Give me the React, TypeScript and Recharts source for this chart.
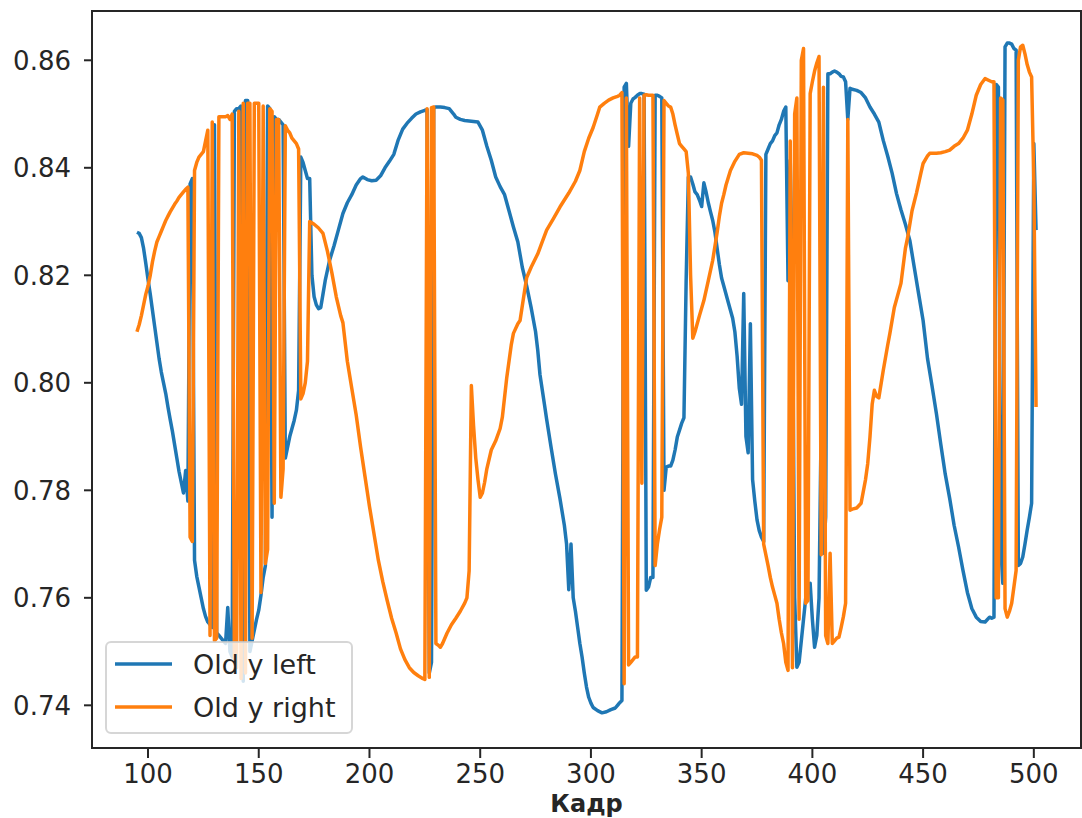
import { LineChart, Line, XAxis, YAxis, ReferenceArea } from "recharts";

const FRAME_TICKS = [100, 150, 200, 250, 300, 350, 400, 450, 500];
const VALUE_TICKS = [0.74, 0.76, 0.78, 0.8, 0.82, 0.84, 0.86];
const FRAME_DOMAIN: [number, number] = [74.7, 521.3];
const VALUE_DOMAIN: [number, number] = [0.73206, 0.86917];

// [кадр, значение]
const oldYLeft: [number, number][] = [
  [95, 0.828], [96, 0.8278], [97, 0.827], [98, 0.825], [99, 0.8222], [100, 0.8192], [101, 0.8165], [102, 0.8135],
  [103, 0.8105], [104, 0.8075], [105, 0.8045], [106, 0.802], [107, 0.8], [108, 0.798], [109, 0.7955], [110, 0.7932],
  [111, 0.791], [112, 0.7885], [113, 0.786], [114, 0.7835], [115, 0.7815], [116, 0.7795], [117, 0.7837], [118, 0.778],
  [119, 0.837], [120, 0.838], [121, 0.767], [122, 0.764], [123, 0.762], [124, 0.76], [125, 0.758], [126, 0.7565],
  [127, 0.7555], [128, 0.755], [129, 0.7545], [130, 0.848], [131, 0.7535], [132, 0.753], [133, 0.7525], [134, 0.752],
  [135, 0.7515], [136, 0.7582], [137, 0.75], [138, 0.749], [139, 0.8505], [140, 0.851], [141, 0.851], [142, 0.8515],
  [143, 0.7445], [144, 0.8525], [145, 0.8525], [146, 0.75], [147, 0.752], [148, 0.754], [149, 0.756], [150, 0.7577],
  [151, 0.7605], [152, 0.7638], [153, 0.766], [154, 0.8515], [155, 0.851], [156, 0.775], [157, 0.8495], [158, 0.849],
  [159, 0.849], [160, 0.8485], [161, 0.848], [162, 0.786], [163, 0.788], [164, 0.79], [165, 0.7915], [166, 0.793],
  [167, 0.7949], [168, 0.7986], [169, 0.842], [170, 0.841], [171, 0.8395], [172, 0.838], [173, 0.838], [174, 0.82],
  [175, 0.816], [176, 0.8145], [177, 0.8138], [178, 0.814], [179, 0.8165], [180, 0.819], [182, 0.8228], [184, 0.8255],
  [186, 0.8285], [188, 0.8315], [190, 0.8335], [192, 0.835], [194, 0.8368], [196, 0.838], [197, 0.8383], [199, 0.8378],
  [201, 0.8376], [203, 0.8377], [205, 0.8385], [207, 0.84], [209, 0.8412], [211, 0.8425], [213, 0.8452], [215, 0.8472],
  [217, 0.8483], [219, 0.8492], [221, 0.85], [223, 0.8504], [225, 0.8507], [226, 0.8508], [227, 0.746], [228, 0.748],
  [229, 0.8512], [230, 0.8513], [232, 0.8513], [234, 0.8512], [236, 0.851], [238, 0.85], [239, 0.8494], [241, 0.849],
  [243, 0.8488], [245, 0.8487], [247, 0.8486], [249, 0.8485], [251, 0.847], [253, 0.844], [255, 0.8414], [257, 0.8383],
  [259, 0.8365], [261, 0.835], [263, 0.832], [265, 0.829], [267, 0.8262], [269, 0.8215], [271, 0.818], [273, 0.814],
  [275, 0.8095], [276, 0.806], [277, 0.8015], [279, 0.796], [280, 0.7932], [282, 0.788], [284, 0.783], [286, 0.7785],
  [288, 0.7735], [289, 0.77], [290, 0.7615], [291, 0.77], [292, 0.76], [293, 0.7575], [294, 0.7545], [295, 0.7515],
  [296, 0.749], [297, 0.746], [298, 0.7434], [299, 0.7415], [300, 0.7404], [301, 0.7396], [303, 0.739], [305, 0.7386],
  [307, 0.7388], [309, 0.7392], [311, 0.7395], [312, 0.74], [313, 0.7405], [314, 0.7409], [315, 0.855], [316, 0.8557],
  [317, 0.844], [318, 0.852], [319, 0.8528], [320, 0.8531], [321, 0.8535], [322, 0.8538], [323, 0.8538], [324, 0.8537],
  [325, 0.7614], [326, 0.762], [327, 0.7638], [328, 0.7638], [329, 0.8535], [330, 0.8535], [331, 0.8533], [332, 0.853],
  [333, 0.78], [334, 0.7843], [335, 0.7845], [336, 0.7845], [337, 0.7856], [338, 0.7875], [339, 0.7899], [340, 0.7912],
  [341, 0.7925], [342, 0.7935], [343, 0.8191], [344, 0.8383], [345, 0.8383], [346, 0.837], [347, 0.8355], [348, 0.835],
  [349, 0.834], [350, 0.8328], [351, 0.8372], [352, 0.8355], [353, 0.8335], [354, 0.8318], [355, 0.8302], [356, 0.828],
  [357, 0.825], [358, 0.822], [359, 0.8195], [360, 0.818], [362, 0.815], [364, 0.812], [365, 0.8095], [366, 0.805],
  [367, 0.799], [368, 0.796], [369, 0.8166], [370, 0.79], [371, 0.787], [372, 0.811], [373, 0.782], [374, 0.778],
  [375, 0.7745], [376, 0.7725], [377, 0.7713], [378, 0.7705], [379, 0.8425], [380, 0.8435], [381, 0.8445], [382, 0.845],
  [383, 0.846], [384, 0.8465], [385, 0.848], [386, 0.849], [387, 0.8505], [388, 0.8513], [389, 0.819], [390, 0.8414],
  [391, 0.8178], [392, 0.76], [393, 0.7471], [394, 0.748], [395, 0.752], [396, 0.756], [397, 0.76], [398, 0.762],
  [399, 0.7627], [400, 0.756], [401, 0.7508], [402, 0.753], [403, 0.76], [404, 0.7936], [405, 0.7683], [406, 0.775],
  [407, 0.8575], [408, 0.8575], [409, 0.8578], [410, 0.858], [411, 0.8578], [412, 0.8575], [413, 0.857], [414, 0.8569],
  [415, 0.856], [416, 0.849], [417, 0.8548], [418, 0.8546], [420, 0.8544], [422, 0.854], [424, 0.853], [426, 0.8513],
  [428, 0.85], [430, 0.8485], [432, 0.8451], [434, 0.8422], [436, 0.839], [438, 0.8352], [440, 0.8322], [442, 0.8295],
  [444, 0.8265], [446, 0.8215], [448, 0.8165], [450, 0.8116], [452, 0.8045], [454, 0.7995], [456, 0.7943], [458, 0.7885],
  [460, 0.783], [462, 0.7785], [464, 0.7735], [466, 0.7695], [468, 0.7651], [470, 0.761], [472, 0.758], [474, 0.7564],
  [476, 0.7556], [478, 0.7555], [480, 0.7564], [481, 0.7562], [482, 0.7564], [483, 0.8555], [484, 0.855], [485, 0.77],
  [486, 0.7627], [487, 0.8625], [488, 0.8632], [489, 0.8632], [490, 0.863], [491, 0.8622], [492, 0.8619], [493, 0.766],
  [494, 0.7664], [495, 0.7676], [496, 0.77], [497, 0.7726], [498, 0.775], [499, 0.7776], [500, 0.8445], [501, 0.8284],
];

const oldYRight: [number, number][] = [
  [95, 0.8095], [96, 0.8108], [97, 0.8125], [98, 0.8145], [99, 0.8165], [100, 0.818], [101, 0.82], [102, 0.8225],
  [103, 0.8245], [104, 0.8262], [105, 0.8272], [106, 0.8282], [107, 0.8292], [108, 0.8302], [109, 0.831], [110, 0.8318],
  [111, 0.8325], [112, 0.8332], [113, 0.8338], [114, 0.8345], [115, 0.835], [116, 0.8355], [117, 0.836], [118, 0.8364],
  [119, 0.7713], [120, 0.7705], [121, 0.8395], [122, 0.841], [123, 0.842], [124, 0.8425], [125, 0.843], [126, 0.845],
  [127, 0.847], [128, 0.753], [129, 0.8485], [130, 0.752], [131, 0.7525], [132, 0.8495], [133, 0.8495], [134, 0.8495],
  [135, 0.8495], [136, 0.8497], [137, 0.849], [138, 0.85], [139, 0.748], [140, 0.747], [141, 0.8505], [142, 0.745],
  [143, 0.852], [144, 0.746], [145, 0.852], [146, 0.852], [147, 0.7525], [148, 0.852], [149, 0.852], [150, 0.852],
  [151, 0.761], [152, 0.8515], [153, 0.7664], [154, 0.769], [155, 0.851], [156, 0.8505], [157, 0.7776], [158, 0.849],
  [159, 0.849], [160, 0.7787], [161, 0.784], [162, 0.8478], [163, 0.847], [164, 0.8465], [165, 0.8455], [166, 0.845],
  [167, 0.8445], [168, 0.8435], [169, 0.797], [170, 0.798], [171, 0.8], [172, 0.804], [173, 0.83], [175, 0.8295],
  [177, 0.8288], [179, 0.8278], [181, 0.8245], [183, 0.8205], [185, 0.816], [187, 0.8125], [188, 0.8112], [190, 0.804],
  [192, 0.799], [194, 0.794], [196, 0.788], [198, 0.7825], [200, 0.777], [202, 0.772], [204, 0.767], [206, 0.763],
  [208, 0.7595], [210, 0.7562], [212, 0.7535], [214, 0.7505], [216, 0.7485], [218, 0.747], [220, 0.7461], [222, 0.7455],
  [224, 0.745], [225, 0.7448], [226, 0.851], [227, 0.7452], [228, 0.8512], [229, 0.8513], [230, 0.7515], [231, 0.7512],
  [232, 0.7508], [233, 0.7515], [235, 0.7534], [237, 0.755], [239, 0.7562], [241, 0.7575], [243, 0.759], [244, 0.76],
  [245, 0.765], [246, 0.7995], [247, 0.792], [248, 0.786], [249, 0.782], [250, 0.7787], [251, 0.7795], [252, 0.7815],
  [253, 0.784], [255, 0.7875], [257, 0.7892], [259, 0.7915], [260, 0.7936], [262, 0.801], [264, 0.807], [265, 0.8092],
  [267, 0.811], [268, 0.8116], [270, 0.817], [271, 0.8196], [273, 0.8215], [276, 0.824], [278, 0.8262], [280, 0.8284],
  [283, 0.8305], [286, 0.8327], [288, 0.834], [290, 0.8353], [293, 0.8375], [295, 0.8395], [297, 0.843], [299, 0.8455],
  [301, 0.8475], [303, 0.85], [304, 0.8513], [306, 0.852], [308, 0.8526], [310, 0.853], [312, 0.8533], [313, 0.8535],
  [314, 0.854], [315, 0.744], [316, 0.853], [317, 0.7475], [318, 0.748], [319, 0.7485], [320, 0.749], [321, 0.749],
  [322, 0.853], [323, 0.7813], [324, 0.8535], [325, 0.8536], [326, 0.8535], [327, 0.8535], [328, 0.8535], [329, 0.766],
  [330, 0.77], [331, 0.7727], [332, 0.775], [333, 0.8525], [334, 0.852], [335, 0.8515], [336, 0.8513], [337, 0.85],
  [338, 0.848], [339, 0.8462], [340, 0.8445], [341, 0.844], [342, 0.8435], [343, 0.843], [344, 0.839], [345, 0.82],
  [346, 0.8083], [347, 0.8095], [349, 0.8125], [351, 0.8153], [353, 0.819], [355, 0.8228], [357, 0.828], [358, 0.831],
  [359, 0.8334], [360, 0.835], [361, 0.8368], [363, 0.8395], [365, 0.8412], [367, 0.8425], [369, 0.8428], [371, 0.8427],
  [373, 0.8426], [375, 0.8423], [376, 0.842], [377, 0.8414], [378, 0.77], [379, 0.768], [380, 0.766], [381, 0.7638],
  [382, 0.762], [383, 0.7605], [384, 0.759], [385, 0.756], [386, 0.7535], [387, 0.7515], [388, 0.748], [389, 0.7465],
  [390, 0.845], [391, 0.747], [392, 0.85], [393, 0.853], [394, 0.756], [395, 0.86], [396, 0.8622], [397, 0.759],
  [398, 0.7595], [399, 0.8538], [400, 0.856], [401, 0.858], [402, 0.8595], [403, 0.8607], [404, 0.768], [405, 0.855],
  [406, 0.753], [407, 0.7515], [408, 0.7683], [409, 0.7515], [410, 0.752], [411, 0.7525], [412, 0.7527], [413, 0.7545],
  [414, 0.7565], [415, 0.759], [416, 0.849], [417, 0.7763], [418, 0.7765], [420, 0.7767], [422, 0.7776], [424, 0.782],
  [425, 0.785], [426, 0.7899], [427, 0.796], [428, 0.7986], [429, 0.7975], [430, 0.7972], [432, 0.8023], [434, 0.807],
  [435, 0.8092], [437, 0.814], [440, 0.8185], [442, 0.825], [443, 0.827], [445, 0.832], [447, 0.8353], [449, 0.839],
  [450, 0.8408], [452, 0.8422], [453, 0.8427], [456, 0.8427], [458, 0.8428], [460, 0.843], [462, 0.8433], [464, 0.844],
  [466, 0.8445], [468, 0.8455], [470, 0.847], [472, 0.85], [474, 0.8535], [476, 0.8555], [478, 0.8566], [480, 0.8562],
  [481, 0.856], [482, 0.856], [483, 0.76], [484, 0.76], [485, 0.853], [486, 0.8526], [487, 0.758], [488, 0.7564],
  [489, 0.7575], [490, 0.759], [491, 0.762], [492, 0.7651], [493, 0.86], [494, 0.8625], [495, 0.8628], [496, 0.8612],
  [497, 0.8592], [498, 0.8578], [499, 0.8569], [500, 0.8375], [501, 0.7955],
];

const BLUE = "#1f77b4";
const ORANGE = "#ff7f0e";
const INK = "#262626";
const FONT = "'DejaVu Sans', sans-serif";
const TICK_FS = 26;
const LEGEND_FS = 27;

const toRows = (pairs: [number, number][]) => pairs.map(([frame, value]) => ({ frame, value }));

function FrameTick({ x, y, payload }: any) {
  return (
    <text x={x} y={y} dy={TICK_FS * 0.73} textAnchor="middle" fontFamily={FONT} fontSize={TICK_FS} fill={INK}>
      {payload.value}
    </text>
  );
}

function ValueTick({ x, y, payload }: any) {
  return (
    <text x={x} y={y} dy={TICK_FS * 0.365} textAnchor="end" fontFamily={FONT} fontSize={TICK_FS} fill={INK}>
      {Number(payload.value).toFixed(2)}
    </text>
  );
}

function LegendBox() {
  return (
    <svg width={248} height={93} style={{ position: "absolute", left: 105, top: 641 }}>
      <rect x={1} y={1} width={246} height={91} rx={5} fill="#fff" fillOpacity={0.8}
        stroke="#cccccc" strokeOpacity={0.8} strokeWidth={2} />
      <line x1={10} x2={67} y1={23} y2={23} stroke={BLUE} strokeWidth={3.5} />
      <text x={88} y={23} dy={LEGEND_FS * 0.365} fontFamily={FONT} fontSize={LEGEND_FS} fill={INK}>Old y left</text>
      <line x1={10} x2={67} y1={66} y2={66} stroke={ORANGE} strokeWidth={3.5} />
      <text x={88} y={66} dy={LEGEND_FS * 0.365} fontFamily={FONT} fontSize={LEGEND_FS} fill={INK}>Old y right</text>
    </svg>
  );
}

export default function App() {
  return (
    <div style={{ position: "absolute", left: 0, top: 0, width: 1082, height: 818, background: "#fff", overflow: "hidden" }}>
      <LineChart width={1082} height={818} margin={{ top: 11, right: 1, bottom: 0, left: 0 }}>
        <XAxis
          dataKey="frame"
          type="number"
          domain={FRAME_DOMAIN}
          ticks={FRAME_TICKS}
          allowDataOverflow
          height={70}
          axisLine={false}
          tickSize={10}
          tickMargin={6}
          tickLine={{ stroke: INK, strokeWidth: 2 }}
          tick={(props: any) => <FrameTick {...props} />}
          label={{ value: "Кадр", position: "insideBottom", offset: 6, fill: INK, fontSize: 24, fontWeight: 700, fontFamily: FONT }}
        />
        <YAxis
          type="number"
          domain={VALUE_DOMAIN}
          ticks={VALUE_TICKS}
          allowDataOverflow
          width={92}
          axisLine={false}
          tickSize={8}
          tickMargin={13}
          tickLine={{ stroke: INK, strokeWidth: 2 }}
          tick={(props: any) => <ValueTick {...props} />}
        />
        <ReferenceArea
          x1={FRAME_DOMAIN[0]}
          x2={FRAME_DOMAIN[1]}
          y1={VALUE_DOMAIN[0]}
          y2={VALUE_DOMAIN[1]}
          fill="none"
          stroke={INK}
          strokeWidth={2}
        />
        <Line data={toRows(oldYLeft)} dataKey="value" stroke={BLUE} strokeWidth={3.5} strokeLinejoin="round"
          dot={false} activeDot={false} isAnimationActive={false} />
        <Line data={toRows(oldYRight)} dataKey="value" stroke={ORANGE} strokeWidth={3.5} strokeLinejoin="round"
          dot={false} activeDot={false} isAnimationActive={false} />
      </LineChart>
      <LegendBox />
    </div>
  );
}
